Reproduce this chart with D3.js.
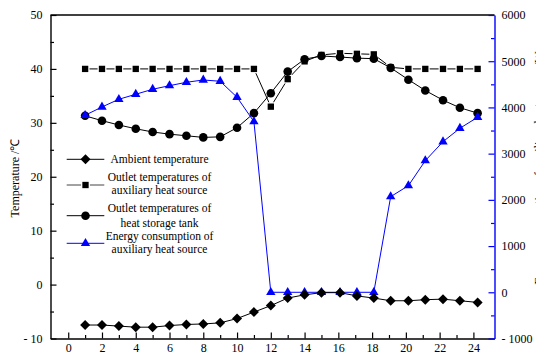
<!DOCTYPE html>
<html><head><meta charset="utf-8">
<script src="https://cdn.jsdelivr.net/npm/d3@7"></script>
<style>
html,body{margin:0;padding:0;background:#fff;}
svg{display:block;}
svg text{font-family:"Liberation Serif","Times New Roman",serif;}
</style></head>
<body><svg id="c" width="536" height="354"></svg>
<script>
const hours = [1,2,3,4,5,6,7,8,9,10,11,12,13,14,15,16.1,17.1,18.1,19.1,20.15,21.15,22.2,23.2,24.25];
const ambient = [-7.5,-7.5,-7.7,-7.9,-7.9,-7.6,-7.4,-7.3,-7.1,-6.3,-5.1,-3.9,-2.5,-1.9,-1.5,-1.5,-2.1,-2.5,-3.0,-3.0,-2.8,-2.7,-3.0,-3.3];
const auxOutlet = [40,40,40,40,40,40,40,40,40,40,40,33.0,38.1,41.4,42.6,42.9,42.8,42.7,40.3,40,40,40,40,40];
const tankOutlet = [31.3,30.4,29.6,28.9,28.3,27.9,27.6,27.3,27.4,29.1,31.8,35.5,39.5,41.8,42.4,42.2,42.0,41.9,40.2,38.0,36.0,34.2,32.8,31.8];
const energy = [3830,4010,4176,4285,4393,4471,4544,4594,4566,4220,3692,0,0,0,0,0,0,0,2069,2307,2848,3259,3549,3787];
const xTicks = [0,2,4,6,8,10,12,14,16,18,20,22,24];
const yLeftTicks = [-10,0,10,20,30,40,50];
const yRightTicks = [-1000,0,1000,2000,3000,4000,5000,6000];
const legendLabels = [["Ambient temperature"],["Outlet temperatures of","auxiliary heat source"],["Outlet temperatures of","heat storage tank"],["Energy consumption of","auxiliary heat source"]];
const yLabel = "Temperature /\u2103";
const y2Label = "Energy consumption of auxiliary heat source /W";

const FONT = '"Liberation Serif","Times New Roman",serif';
const svg = d3.select("#c");
const L = 50.5, R = 494.5, T = 15, B = 338.5;
const x = d3.scaleLinear().domain([-1.05, 25.25]).range([L, R]);
const y = d3.scaleLinear().domain([-10, 50]).range([B, T]);
const y2 = d3.scaleLinear().domain([-1000, 6000]).range([B, T]);
const fmt = d => d < 0 ? "- " + Math.abs(d) : String(d);

function styleAxis(g, color) {
  g.attr("font-family", FONT);
  g.selectAll("path").attr("stroke", color).attr("stroke-width", 1.4);
  g.selectAll("line").attr("stroke", color).attr("stroke-width", 1.2);
  g.selectAll("text").attr("fill", "#000").attr("font-size", 12).attr("font-family", FONT);
}
// minor ticks
const minorX = d3.range(1, 25, 2);
const minorY = d3.range(-5, 50, 10);
const minorY2 = d3.range(-500, 6000, 1000);
svg.append("g").attr("transform", `translate(0,${B})`)
  .call(d3.axisBottom(x).tickValues(minorX).tickSizeInner(-3.5).tickSizeOuter(0).tickFormat(""))
  .call(g => { g.select("path").remove(); styleAxis(g, "#000"); });
svg.append("g").attr("transform", `translate(${L},0)`)
  .call(d3.axisLeft(y).tickValues(minorY).tickSizeInner(-3.5).tickSizeOuter(0).tickFormat(""))
  .call(g => { g.select("path").remove(); styleAxis(g, "#000"); });
svg.append("g").attr("transform", `translate(${R},0)`)
  .call(d3.axisRight(y2).tickValues(minorY2).tickSizeInner(-3.5).tickSizeOuter(0).tickFormat(""))
  .call(g => { g.select("path").remove(); styleAxis(g, "#0000ff"); });

// top border
svg.append("line").attr("x1", L).attr("x2", R).attr("y1", T).attr("y2", T).attr("stroke", "#000").attr("stroke-width", 1.4);

svg.append("g").attr("transform", `translate(0,${B})`)
  .call(d3.axisBottom(x).tickValues(xTicks).tickSizeInner(-6).tickSizeOuter(0).tickPadding(5))
  .call(g => styleAxis(g, "#000"));
svg.append("g").attr("transform", `translate(${L},0)`)
  .call(d3.axisLeft(y).tickValues(yLeftTicks).tickSizeInner(-6).tickSizeOuter(0).tickPadding(8).tickFormat(fmt))
  .call(g => styleAxis(g, "#000"));
svg.append("g").attr("transform", `translate(${R},0)`)
  .call(d3.axisRight(y2).tickValues(yRightTicks).tickSizeInner(-6).tickSizeOuter(0).tickPadding(7).tickFormat(fmt))
  .call(g => styleAxis(g, "#0000ff"));

// axis titles
svg.append("text").attr("transform", `translate(19,178) rotate(-90)`).attr("text-anchor", "middle")
  .attr("font-family", FONT).attr("font-size", 12).text(yLabel);
svg.append("text").attr("transform", `translate(543,168) rotate(-90)`).attr("text-anchor", "middle")
  .attr("font-family", FONT).attr("font-size", 12).attr("fill", "#000").text(y2Label);

const diamondPath = d3.symbol().type(d3.symbolSquare).size(50)();
const sym = {
  diamond: {d: diamondPath, rot: 45},
  square: {d: d3.symbol().type(d3.symbolSquare).size(40)(), rot: 0},
  circle: {d: d3.symbol().type(d3.symbolCircle).size(58)(), rot: 0},
  triangle: {d: d3.symbol().type(d3.symbolTriangle).size(38)(), rot: 0}
};
const series = [
  {vals: auxOutlet, sc: y, color: "#000", sym: sym.square, gap: true},
  {vals: tankOutlet, sc: y, color: "#000", sym: sym.circle, gap: false},
  {vals: energy, sc: y2, color: "#0000ff", sym: sym.triangle, gap: false},
  {vals: ambient, sc: y, color: "#000", sym: sym.diamond, gap: false}
];
series.forEach(s => {
  const pts = hours.map((h, i) => [x(h), s.sc(s.vals[i])]);
  svg.append("path").attr("d", d3.line()(pts)).attr("fill", "none")
    .attr("stroke", s.color).attr("stroke-width", 1);
  svg.append("g").selectAll("path").data(pts).join("path")
    .attr("transform", d => `translate(${d[0]},${d[1]}) rotate(${s.sym.rot})`)
    .attr("d", s.sym.d).attr("fill", s.color)
    .attr("stroke", s.gap ? "#fff" : "none").attr("stroke-width", s.gap ? 2.5 : 0)
    .attr("paint-order", "stroke");
});

// legend
const legRows = [
  {lineY: 159.3, textY: [159.3], sym: sym.diamond, color: "#000", line: "#000", gap: false},
  {lineY: 185, textY: [177.3, 189.5], sym: sym.square, color: "#000", line: "#444", gap: true},
  {lineY: 215.7, textY: [207.7, 222.7], sym: sym.circle, color: "#000", line: "#000", gap: false},
  {lineY: 243.3, textY: [235.7, 249.3], sym: sym.triangle, color: "#0000ff", line: "#0000ff", gap: false}
];
legRows.forEach((r, i) => {
  svg.append("line").attr("x1", 66.7).attr("x2", 104.3).attr("y1", r.lineY).attr("y2", r.lineY)
    .attr("stroke", r.line).attr("stroke-width", 1);
  svg.append("path").attr("transform", `translate(85.5,${r.lineY}) rotate(${r.sym.rot})`).attr("d", r.sym.d)
    .attr("fill", r.color).attr("stroke", r.gap ? "#fff" : "none").attr("stroke-width", r.gap ? 2.5 : 0)
    .attr("paint-order", "stroke");
  legendLabels[i].forEach((t, j) => {
    svg.append("text").attr("x", 159.5).attr("y", r.textY[j]).attr("dy", "0.35em")
      .attr("text-anchor", "middle").attr("font-family", FONT).attr("font-size", 11.5).text(t);
  });
});
</script></body></html>
